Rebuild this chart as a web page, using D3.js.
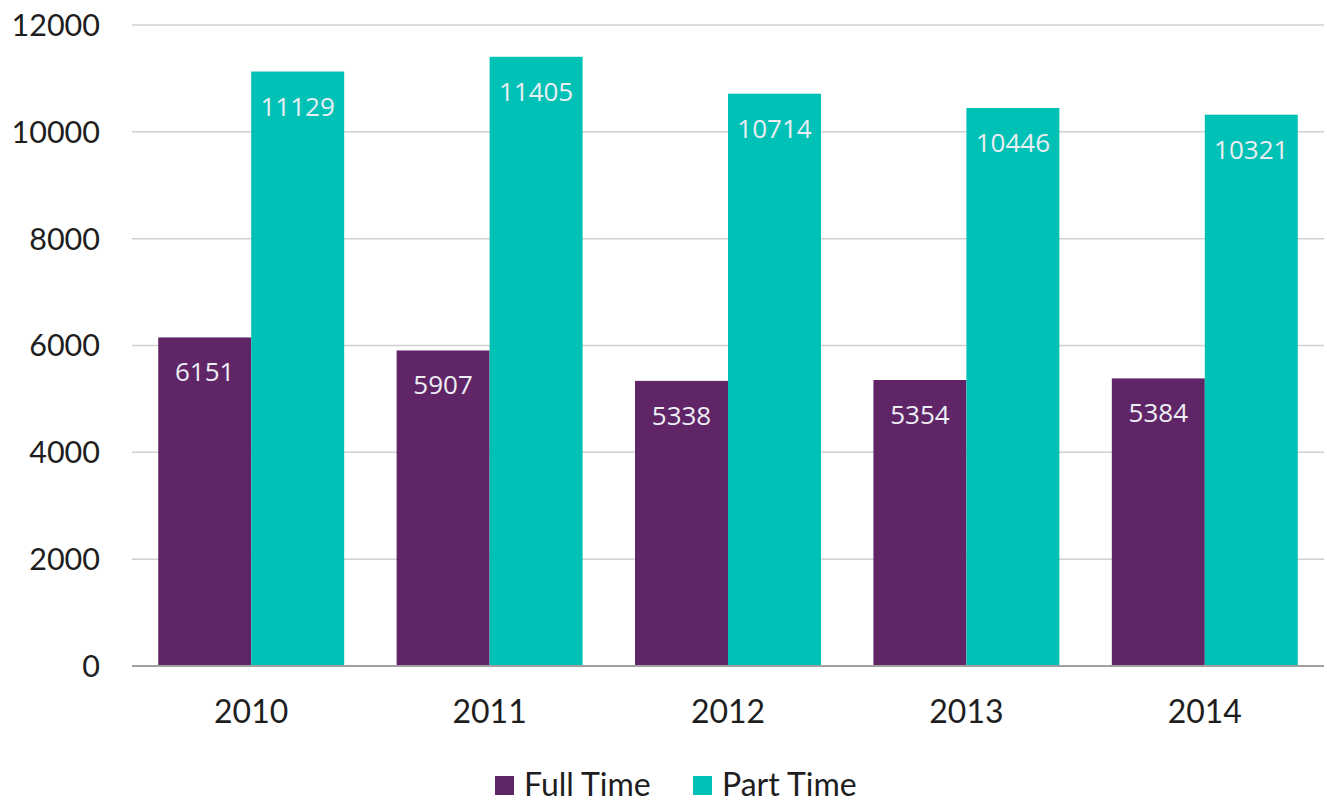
<!DOCTYPE html>
<html><head><meta charset="utf-8">
<script src="https://cdn.jsdelivr.net/npm/d3@7"></script>
<style>body{margin:0;background:#fff;}svg{display:block;}</style>
</head><body><svg id="c" width="1327" height="802"></svg>
<script>
const categories = ["2010","2011","2012","2013","2014"];
const seriesNames = ["Full Time","Part Time"];
const fullTime = [6151,5907,5338,5354,5384];
const partTime = [11129,11405,10714,10446,10321];
const yTicks = [0,2000,4000,6000,8000,10000,12000];
const colors = ["#602567","#00c1b5"];

const svg = d3.select("#c");
const L = 132, R = 1324, T = 25, B = 666;
const x = d3.scaleBand().domain(categories).range([L,R]).paddingInner(0.22).paddingOuter(0.11);
const x1 = d3.scaleBand().domain(seriesNames).range([0,x.bandwidth()]);
const y = d3.scaleLinear().domain([0,12000]).range([B,T]);
const tickFont = "Lato, 'Open Sans', sans-serif";

// gridlines
svg.append("g").selectAll("line").data(yTicks.filter(d=>d>0)).join("line")
  .attr("x1",L).attr("x2",R).attr("y1",d=>y(d)).attr("y2",d=>y(d))
  .attr("stroke","#d0d0d0").attr("stroke-width",1.5);

// y labels
svg.append("g").selectAll("text").data(yTicks).join("text")
  .attr("x",100).attr("y",d=>y(d)).attr("dy","0.36em").attr("text-anchor","end")
  .attr("font-family",tickFont).attr("font-size",30.5).attr("fill","#1e1e1e")
  .text(d=>d);

const data = categories.map((c,i)=>({c, vals:[fullTime[i],partTime[i]]}));
const g = svg.append("g").selectAll("g").data(data).join("g")
  .attr("transform",d=>`translate(${x(d.c)},0)`);
g.selectAll("rect").data(d=>d.vals.map((v,j)=>({v,s:seriesNames[j],j}))).join("rect")
  .attr("x",d=>x1(d.s)).attr("width",x1.bandwidth())
  .attr("y",d=>y(d.v)).attr("height",d=>B-y(d.v)).attr("fill",d=>colors[d.j]);
g.selectAll("text").data(d=>d.vals.map((v,j)=>({v,s:seriesNames[j],j}))).join("text")
  .attr("x",d=>x1(d.s)+x1.bandwidth()/2).attr("y",d=>y(d.v)+44)
  .attr("text-anchor","middle").attr("font-family","'Open Sans', sans-serif").attr("font-size",26)
  .attr("fill","#eceef4").text(d=>d.v);

// x axis line
svg.append("line").attr("x1",L).attr("x2",R).attr("y1",B).attr("y2",B)
  .attr("stroke","#a0a0a0").attr("stroke-width",2);

// x labels
svg.append("g").selectAll("text").data(categories).join("text")
  .attr("x",d=>x(d)+x.bandwidth()/2).attr("y",723).attr("text-anchor","middle")
  .attr("font-family",tickFont).attr("font-size",32).attr("fill","#1e1e1e").text(d=>d);

// legend
const legendX = [495,693];
const lg = svg.append("g").selectAll("g").data(seriesNames).join("g")
  .attr("transform",(d,i)=>`translate(${legendX[i]},776)`);
lg.append("rect").attr("width",19).attr("height",19).attr("fill",(d,i)=>colors[i]);
lg.append("text").attr("x",29).attr("y",20).attr("font-family",tickFont).attr("font-size",32)
  .attr("fill","#1e1e1e").text(d=>d);
</script></body></html>
